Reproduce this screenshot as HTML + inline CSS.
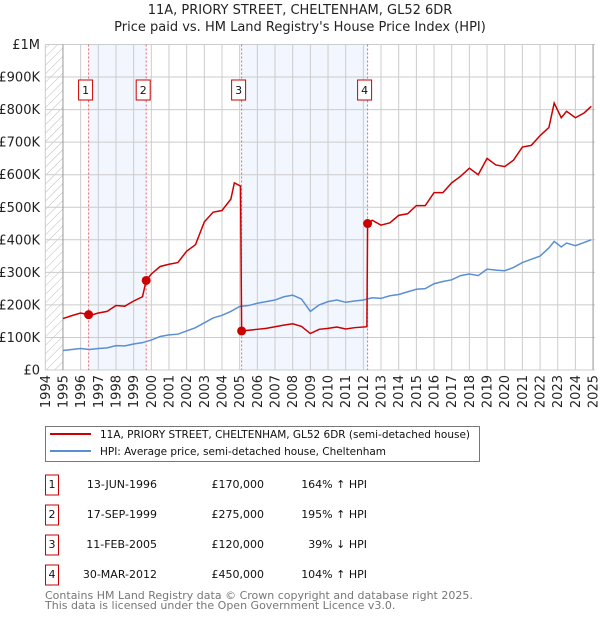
<!DOCTYPE html>
<html><head><meta charset="utf-8"><style>
body{margin:0;background:#fff;font-family:"DejaVu Sans","Liberation Sans",sans-serif;}
svg text{font-family:"DejaVu Sans","Liberation Sans",sans-serif;}
</style></head><body>
<svg id="c" width="600" height="620" xmlns="http://www.w3.org/2000/svg">
<defs><pattern id="hatch" width="6" height="6" patternUnits="userSpaceOnUse" patternTransform="rotate(45)"><line x1="0" y1="0" x2="0" y2="6" stroke="#bbb" stroke-width="1"/></pattern></defs>
<text x="300" y="14" text-anchor="middle" font-size="13" fill="#222">11A, PRIORY STREET, CHELTENHAM, GL52 6DR</text>
<text x="300" y="31" text-anchor="middle" font-size="13" fill="#222">Price paid vs. HM Land Registry's House Price Index (HPI)</text>
<g id="plot"></g>
<g>
<rect x="45.5" y="426.5" width="434" height="35" fill="#fff" stroke="#777"/>
<line x1="50" y1="434" x2="91" y2="434" stroke="#cc0000" stroke-width="2"/>
<text x="100" y="438" font-size="10.5" fill="#111" textLength="370">11A, PRIORY STREET, CHELTENHAM, GL52 6DR (semi-detached house)</text>
<line x1="50" y1="451" x2="91" y2="451" stroke="#5b8fd4" stroke-width="2"/>
<text x="100" y="455" font-size="10.5" fill="#111" textLength="286">HPI: Average price, semi-detached house, Cheltenham</text>
</g>
<g id="table"></g>
<text x="45" y="599" font-size="11" fill="#777">Contains HM Land Registry data © Crown copyright and database right 2025.</text>
<text x="45" y="609" font-size="11" fill="#777">This data is licensed under the Open Government Licence v3.0.</text>
</svg>
<script>
const hpiYears=[1995,1995.5,1996,1996.5,1997,1997.5,1998,1998.5,1999,1999.5,2000,2000.5,2001,2001.5,2002,2002.5,2003,2003.5,2004,2004.5,2005,2005.5,2006,2006.5,2007,2007.5,2008,2008.5,2009,2009.5,2010,2010.5,2011,2011.5,2012,2012.5,2013,2013.5,2014,2014.5,2015,2015.5,2016,2016.5,2017,2017.5,2018,2018.5,2019,2019.5,2020,2020.5,2021,2021.5,2022,2022.5,2022.8,2023.2,2023.5,2024,2024.5,2024.9];
const hpiValues=[60,63,66,63,66,68,75,74,80,84,92,103,108,110,120,130,145,160,168,180,195,198,205,210,215,225,230,218,180,200,210,215,208,212,215,222,220,228,232,240,248,250,265,272,277,290,295,290,310,307,305,315,330,340,350,375,395,378,390,382,392,400];
const priceYears=[1995,1995.5,1996,1996.45,1996.5,1997,1997.5,1998,1998.5,1999,1999.5,1999.71,2000,2000.5,2001,2001.5,2002,2002.5,2003,2003.5,2004,2004.5,2004.7,2005.05,2005.11,2005.5,2006,2006.5,2007,2007.5,2008,2008.5,2009,2009.5,2010,2010.5,2011,2011.5,2012.2,2012.24,2012.5,2013,2013.5,2014,2014.5,2015,2015.5,2016,2016.5,2017,2017.5,2018,2018.5,2019,2019.5,2020,2020.5,2021,2021.5,2022,2022.5,2022.8,2023.2,2023.5,2024,2024.5,2024.9];
const priceValues=[158,167,175,170,167,175,180,198,196,212,225,275,295,318,325,330,365,385,455,485,490,525,575,565,120,122,125,128,133,138,142,134,112,125,128,132,126,130,133,450,460,445,452,475,480,505,505,545,545,575,595,620,600,650,630,625,645,685,690,720,745,820,775,795,775,790,810];
const saleLabels=["1","2","3","4"];
const saleYears=[1996.45,1999.71,2005.11,2012.24];
const saleValues=[170,275,120,450];
const saleDates=["13-JUN-1996","17-SEP-1999","11-FEB-2005","30-MAR-2012"];
const salePrices=["£170,000","£275,000","£120,000","£450,000"];
const saleHpi=["164% ↑ HPI","195% ↑ HPI","39% ↓ HPI","104% ↑ HPI"];
const yTicks=[0,100,200,300,400,500,600,700,800,900,1000];
const yTickLabels=["£0","£100K","£200K","£300K","£400K","£500K","£600K","£700K","£800K","£900K","£1M"];
const xTicks=[1994,1995,1996,1997,1998,1999,2000,2001,2002,2003,2004,2005,2006,2007,2008,2009,2010,2011,2012,2013,2014,2015,2016,2017,2018,2019,2020,2021,2022,2023,2024,2025];

const NS="http://www.w3.org/2000/svg";
const X0=45.3,Y0=370,PX=17.67,PY=0.3255;
const xs=y=>X0+(y-1994)*PX, ys=v=>Y0-v*PY;
const P=document.getElementById('plot');
function mk(t,a,parent){const e=document.createElementNS(NS,t);for(const k in a)e.setAttribute(k,a[k]);(parent||P).appendChild(e);return e;}
for(let i=0;i<saleYears.length;i+=2){
 const r=mk('rect',{x:xs(saleYears[i]),y:ys(1000),width:xs(saleYears[i+1])-xs(saleYears[i]),height:Y0-ys(1000),fill:'#f2f6fe'});
 
 
}
const hz=mk('rect',{x:X0,y:ys(1000),width:xs(1995)-X0,height:Y0-ys(1000),fill:'url(#hatch)'});


xTicks.forEach(t=>{
 const l=mk('line',{x1:xs(t),x2:xs(t),y1:ys(1000),y2:Y0,stroke:'#ccc'});
 
 
 const tx=mk('text',{x:0,y:0,'font-size':13,fill:'#222','text-anchor':'end',transform:`translate(${xs(t)+4.5},375) rotate(-90)`});
 tx.textContent=t;
 
 
});
yTicks.forEach((t,i)=>{
 const l=mk('line',{x1:X0,x2:595,y1:ys(t),y2:ys(t),stroke:'#ccc'});
 
 
 const tx=mk('text',{x:40,y:ys(t)+4.5,'font-size':13,fill:'#222','text-anchor':'end'});
 tx.textContent=yTickLabels[i];
 
 
});
const ax=mk('line',{x1:xs(1995),x2:xs(1995),y1:ys(1000),y2:Y0,stroke:'#999'});


const ax2=mk('line',{x1:xs(2025),x2:xs(2025),y1:ys(1000),y2:Y0,stroke:'#999'});


saleYears.forEach((y,i)=>{
 const l=mk('line',{x1:xs(y),x2:xs(y),y1:ys(1000),y2:Y0,stroke:'#e66','stroke-dasharray':'2,2'});
 
 
 const b=mk('rect',{x:xs(y)-10,y:80,width:14,height:20,fill:'#fff',stroke:'#c00'});
 
 
 const t=mk('text',{x:xs(y)-3,y:94,'font-size':11,'text-anchor':'middle',fill:'#111'});
 t.textContent=saleLabels[i];
 
 
});
const hp=mk('polyline',{points:hpiYears.map((y,i)=>xs(y)+','+ys(hpiValues[i])).join(' '),fill:'none',stroke:'#5b8fd4','stroke-width':1.5});


const pp=mk('polyline',{points:priceYears.map((y,i)=>xs(y)+','+ys(priceValues[i])).join(' '),fill:'none',stroke:'#cc0000','stroke-width':1.5});


saleYears.forEach((y,i)=>{
 const c=mk('circle',{cx:xs(y),cy:ys(saleValues[i]),r:4.5,fill:'#cc0000'});
 
 
});
const T=document.getElementById('table');
saleLabels.forEach((s,i)=>{
 const yy=485+i*30;
 const b=mk('rect',{x:45.5,y:yy-10,width:13,height:20,fill:'#fff',stroke:'#c00'},T);
 
 
 const cells=[[52,s,'middle'],[157,saleDates[i],'end'],[264,salePrices[i],'end'],[367,saleHpi[i],'end']];
 cells.forEach(c=>{
  const t=mk('text',{x:c[0],y:yy+3,'font-size':11,fill:'#111','text-anchor':c[2]},T);
  t.textContent=c[1];
  
  
 });
});
</script>
</body></html>
